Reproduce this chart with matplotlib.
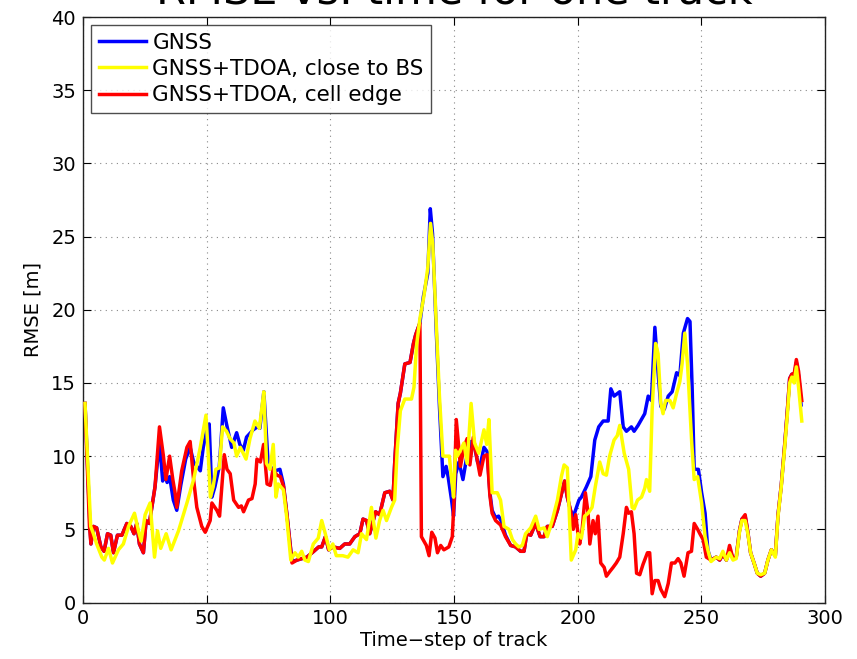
import matplotlib
matplotlib.use("Agg")
import matplotlib.pyplot as plt

plt.rcParams["font.family"] = ["DejaVu Sans"]

# GNSS only
t_gnss = [0.8, 2.8, 3.2, 4.2, 5.5, 7.2, 8.5, 9.9, 11.2, 12.3, 13.9, 15.7, 17.7, 19.3, 20.6,
          21.7, 22.8, 24.4, 25.5, 26.8, 27.8, 29.1, 30.9, 32.2, 33.0, 34.0, 35.0, 36.5, 37.9,
          39.5, 41.5, 43.3, 44.7, 46.5, 47.4, 48.6, 50.0, 51.0, 52.1, 53.3, 55.1, 56.7, 58.0,
          60.1, 62.1, 63.4, 64.8, 66.1, 68.8, 70.5, 71.5, 73.1, 74.9, 76.3, 77.7, 79.6, 81.0,
          82.5, 84.5, 86.5, 88.5, 90.5, 93.3, 95.3, 96.5, 98.0, 99.3, 101.0, 103.8, 105.8,
          107.8, 109.9, 111.9, 113.2, 114.6, 115.9, 118.3, 119.9, 122.0, 124.0, 125.3, 126.0,
          127.4, 128.3, 130.1, 132.2, 133.6, 134.5, 136.2, 137.6, 139.4, 140.4, 141.3, 142.8,
          144.1, 145.5, 146.8, 147.6, 149.0, 149.8, 150.7, 152.0, 153.6, 155.0, 156.8, 158.0,
          159.5, 160.5, 162.1, 163.4, 164.5, 165.4, 166.8, 168.0, 169.0, 170.8, 172.9, 174.9,
          176.9, 178.3, 179.4, 181.0, 183.0, 184.8, 186.4, 187.7, 189.7, 191.8, 193.1, 194.7,
          195.8, 197.1, 198.3, 200.5, 201.5, 203.5, 205.3, 206.9, 208.5, 210.3, 212.3, 213.4,
          214.7, 217.0, 218.4, 219.7, 221.7, 222.8, 224.4, 227.1, 228.5, 229.8, 231.2, 232.5,
          233.6, 235.0, 236.6, 238.2, 240.0, 241.3, 242.7, 244.4, 245.4, 246.3, 247.1, 248.8,
          250.1, 251.5, 252.6, 253.9, 256.0, 257.4, 258.7, 260.1, 261.4, 262.8, 264.1, 265.4,
          266.4, 267.7, 268.8, 269.9, 271.3, 272.6, 274.0, 275.6, 276.9, 278.3, 279.9, 281.0,
          282.3, 283.7, 284.8, 285.7, 286.6, 287.5, 288.4, 289.3, 290.3]
rmse_gnss = [13.6, 5.2, 4.0, 5.2, 5.1, 3.8, 3.5, 4.7, 4.6, 3.4, 4.6, 4.6, 5.4, 5.2, 4.7,
             5.4, 4.0, 3.4, 5.6, 5.4, 6.5, 7.9, 11.0, 8.3, 8.8, 8.2, 8.6, 7.0, 6.3,
             8.0, 9.8, 10.6, 9.6, 9.2, 9.0, 10.6, 11.8, 12.2, 7.2, 7.9, 9.3, 13.3, 12.2,
             10.6, 11.6, 10.8, 10.4, 11.3, 11.8, 12.0, 11.9, 14.4, 9.3, 9.2, 9.0, 9.1, 8.1,
             5.9, 2.8, 2.9, 3.0, 3.1, 3.5, 3.8, 3.8, 4.5, 3.6, 3.8, 3.7, 4.0,
             4.0, 4.5, 4.7, 5.7, 5.6, 4.7, 6.2, 6.0, 7.5, 7.6, 7.0, 9.5,
             13.6, 14.3, 16.3, 16.4, 17.7, 18.3, 19.1, 20.9, 22.5, 26.9, 25.2, 18.6,
             13.4, 8.6, 9.3, 8.6, 7.0, 5.9, 8.8, 9.6, 8.4, 9.8, 11.0, 10.9,
             9.6, 9.3, 10.6, 10.3, 7.5, 6.3, 5.8, 5.9, 5.6, 4.6, 3.9, 3.8,
             3.5, 3.5, 4.7, 4.6, 5.4, 4.5, 4.5, 5.2, 5.2, 6.3, 7.2, 8.3,
             7.2, 6.3, 5.9, 7.0, 7.2, 7.9, 8.6, 11.1, 12.0, 12.4, 12.4, 14.6,
             14.1, 14.4, 12.0, 11.7, 12.0, 11.7, 12.1, 12.9, 14.1, 13.8, 18.8, 15.7,
             13.4, 13.2, 14.1, 14.4, 15.7, 15.5, 18.4, 19.4, 19.2, 14.5, 9.1, 9.1,
             7.5, 6.1, 3.6, 2.9, 3.1, 2.9, 3.3, 2.9, 3.6, 3.0, 3.1, 4.9,
             5.7, 5.9, 4.8, 3.4, 2.7, 2.0, 1.8, 2.0, 2.9, 3.6, 3.2, 6.0,
             8.0, 10.8, 13.2, 15.3, 15.6, 15.4, 16.4, 15.5, 13.5]

# GNSS+TDOA, close to BS
t_close = [0.8, 3.1, 4.2, 5.5, 7.6, 8.6, 10.3, 11.9, 14.3, 16.3, 18.4, 20.8, 22.4, 23.5,
           25.1, 27.1, 28.9, 30.1, 31.4, 33.6, 35.6, 38.6, 42.0, 44.7, 47.4, 49.7, 50.6,
           51.5, 52.6, 53.7, 55.1, 56.4, 58.0, 59.4, 61.0, 62.1, 63.6, 65.9, 67.5, 69.5,
           71.3, 72.2, 73.1, 74.2, 75.6, 76.9, 78.0, 78.9, 81.0, 82.3, 84.0, 85.7, 87.0,
           88.4, 89.7, 91.1, 93.1, 95.1, 96.5, 97.8, 99.6, 101.0, 102.4, 105.0, 107.1,
           109.2, 111.2, 112.6, 114.6, 116.6, 118.4, 119.9, 121.3, 122.7, 124.7, 126.0,
           127.0, 128.3, 130.1, 132.8, 133.8, 134.8, 136.2, 137.8, 139.4, 140.5, 141.4,
           142.8, 144.1, 145.5, 148.1, 149.0, 149.8, 150.6, 151.3, 152.6, 154.0, 155.3,
           156.9, 158.3, 160.0, 162.1, 163.2, 164.1, 165.4, 167.5, 168.8, 170.2, 172.2,
           173.6, 174.9, 176.2, 177.6, 178.9, 181.0, 183.0, 184.4, 186.4, 187.7, 189.7,
           191.8, 193.4, 194.5, 195.8, 196.5, 197.4, 199.2, 200.1, 201.5, 202.8, 204.2,
           205.8, 207.1, 208.9, 210.3, 211.6, 212.9, 214.7, 216.0, 217.0, 218.8, 220.6,
           222.0, 222.8, 224.2, 225.8, 227.1, 227.8, 229.1, 230.1, 231.5, 232.5, 233.6,
           234.5, 235.5, 237.3, 238.6, 240.0, 241.3, 242.2, 243.3, 244.4, 246.1, 247.1,
           248.5, 250.1, 251.5, 252.6, 253.9, 256.0, 257.4, 258.7, 260.1, 261.4, 262.8,
           264.1, 265.4, 266.4, 267.7, 268.8, 269.9, 271.3, 272.6, 274.0, 275.6, 276.9,
           278.3, 279.9, 281.0, 282.3, 283.7, 284.8, 285.7, 286.6, 287.5, 288.4, 289.3,
           290.6]
rmse_close = [13.6, 5.2, 4.7, 4.0, 3.1, 2.9, 3.7, 2.7, 3.6, 4.0, 5.2, 6.1, 4.9, 4.2,
              6.0, 6.8, 3.1, 4.9, 3.7, 4.7, 3.6, 4.9, 6.8, 8.4, 10.6, 12.8, 10.2,
              7.2, 7.9, 9.1, 9.2, 12.0, 11.7, 11.2, 10.9, 10.0, 10.6, 9.8, 11.2, 12.4,
              11.9, 13.2, 14.4, 9.5, 9.1, 10.8, 7.2, 8.1, 7.7, 5.9, 2.9, 3.4, 3.1,
              3.5, 2.9, 2.8, 4.0, 4.4, 5.6, 4.8, 3.6, 4.0, 3.2, 3.2, 3.1,
              3.6, 3.4, 4.7, 4.3, 6.5, 4.4, 5.6, 6.3, 5.6, 6.5, 7.0,
              10.4, 13.1, 13.9, 13.9, 14.7, 17.5, 19.4, 20.9, 22.9, 25.9, 24.5,
              19.1, 14.1, 10.0, 10.0, 8.4, 7.2, 10.4, 10.0, 10.4, 10.9, 9.5,
              13.6, 10.9, 10.2, 11.8, 10.8, 12.5, 7.5, 7.5, 7.0, 5.2, 5.0,
              4.3, 4.0, 3.8, 3.9, 4.7, 5.1, 5.9, 5.0, 5.1, 4.5, 5.6,
              7.0, 8.6, 9.4, 9.2, 6.5, 2.9, 3.6, 4.7, 4.4, 5.9, 6.1,
              6.5, 7.9, 9.6, 8.8, 8.7, 10.0, 11.1, 11.4, 12.1, 10.2, 9.1,
              6.5, 6.4, 7.0, 7.2, 7.8, 8.4, 7.6, 13.2, 17.7, 17.0, 13.6,
              12.9, 13.8, 13.8, 13.3, 14.3, 15.1, 16.3, 18.4, 16.3, 10.9, 8.4,
              8.6, 6.8, 4.5, 3.6, 2.8, 3.1, 3.0, 3.5, 2.9, 3.4, 2.9,
              3.0, 4.8, 5.6, 5.6, 4.7, 3.4, 2.7, 2.0, 1.9, 2.0, 2.9,
              3.6, 3.1, 5.9, 7.9, 10.6, 12.9, 15.0, 15.4, 15.0, 16.1, 14.7,
              12.4]

# GNSS+TDOA, cell edge
t_edge = [0.8, 2.6, 3.2, 4.2, 5.5, 7.2, 8.5, 9.9, 11.2, 12.3, 13.9, 15.7, 17.7, 19.3, 20.6,
          21.7, 22.8, 24.4, 25.5, 26.8, 27.8, 29.1, 30.9, 32.5, 33.5, 35.0, 36.3, 37.2, 37.9,
          39.9, 42.0, 43.3, 44.7, 46.0, 48.0, 49.4, 51.4, 52.1, 54.1, 55.2, 56.1, 57.1, 58.2,
          59.5, 60.9, 62.9, 64.0, 64.9, 66.9, 68.3, 69.6, 70.3, 71.7, 73.0, 74.4, 75.7, 76.8,
          78.4, 79.8, 81.1, 82.5, 84.5, 86.5, 88.5, 90.5, 93.3, 95.3, 96.5, 98.0, 99.3, 101.0,
          103.8, 105.8, 107.8, 109.9, 111.9, 113.2, 114.6, 115.9, 118.3, 119.9, 122.0, 124.0,
          125.3, 126.0, 127.4, 128.3, 130.1, 132.2, 133.6, 134.5, 136.2, 136.8, 138.8, 139.9,
          141.0, 142.3, 143.3, 144.6, 145.9, 147.9, 149.3, 150.0, 150.9, 152.6, 154.0, 155.3,
          156.4, 157.8, 159.1, 160.5, 162.1, 163.4, 164.5, 165.4, 166.8, 168.8, 170.8, 172.9,
          174.9, 176.9, 178.3, 179.4, 181.0, 183.0, 184.8, 186.4, 187.7, 189.7, 191.8, 193.1,
          194.7, 195.8, 197.1, 198.2, 199.2, 200.1, 200.8, 201.8, 203.1, 204.2, 204.9, 206.2,
          207.1, 208.2, 209.3, 210.7, 211.6, 212.9, 214.3, 215.6, 217.0, 218.4, 219.7, 220.6,
          221.7, 222.8, 223.8, 225.1, 226.4, 228.2, 229.1, 230.1, 231.2, 232.5, 233.6, 235.2,
          236.6, 237.9, 239.3, 240.6, 241.7, 243.0, 244.6, 246.0, 247.1, 248.5, 249.4, 250.7,
          252.0, 253.9, 256.0, 257.4, 258.7, 260.1, 261.4, 262.8, 264.1, 265.4, 266.4, 267.7,
          268.8, 269.9, 271.3, 272.6, 274.0, 275.6, 276.9, 278.3, 279.9, 281.0, 282.3, 283.7,
          284.8, 285.7, 286.6, 287.5, 288.4, 289.3, 290.6]
rmse_edge = [13.6, 5.2, 4.0, 5.2, 5.1, 3.8, 3.5, 4.7, 4.6, 3.4, 4.6, 4.6, 5.4, 5.2, 4.7,
             5.4, 4.0, 3.4, 5.6, 5.4, 6.5, 7.9, 12.0, 10.0, 8.4, 10.0, 8.4, 7.5, 6.5,
             9.0, 10.6, 11.0, 8.4, 6.5, 5.2, 4.8, 5.6, 6.8, 6.3, 5.9, 7.9, 10.1, 9.1,
             8.8, 7.0, 6.5, 6.6, 6.2, 7.0, 7.1, 8.1, 9.8, 9.6, 10.8, 8.1, 8.0, 9.1,
             8.7, 8.6, 7.9, 5.9, 2.7, 2.9, 3.0, 3.1, 3.5, 3.8, 3.8, 4.5, 3.6, 3.8,
             3.7, 4.0, 4.0, 4.5, 4.7, 5.7, 5.6, 4.7, 6.2, 6.0, 7.5, 7.6,
             7.0, 9.5, 13.6, 14.3, 16.3, 16.4, 17.7, 18.3, 19.1, 4.5, 3.9, 3.2,
             4.8, 4.4, 3.4, 3.9, 3.6, 3.8, 4.5, 7.0, 12.5, 9.3, 10.6, 11.2,
             9.4, 11.3, 10.0, 8.7, 10.0, 10.1, 7.3, 6.1, 5.6, 5.3, 4.5, 3.9,
             3.8, 3.5, 3.5, 4.7, 4.6, 5.4, 4.5, 4.5, 5.2, 5.2, 6.3, 7.2,
             8.3, 7.2, 6.3, 5.0, 6.0, 4.7, 4.0, 5.0, 7.5, 6.1, 4.0, 5.6,
             4.7, 5.9, 2.7, 2.4, 1.8, 2.1, 2.4, 2.7, 3.1, 4.7, 6.5, 6.1,
             6.2, 4.7, 2.0, 1.9, 2.6, 3.4, 3.4, 0.6, 1.5, 1.5, 0.9, 0.4,
             1.3, 2.7, 2.7, 3.0, 2.7, 1.8, 3.4, 3.5, 5.4, 5.0, 4.7, 4.3,
             3.1, 2.9, 3.1, 2.9, 3.3, 2.9, 3.9, 3.0, 3.1, 4.9, 5.7, 6.0,
             4.8, 3.4, 2.7, 2.0, 1.8, 2.0, 2.9, 3.6, 3.2, 6.0, 8.0, 10.8,
             13.2, 15.3, 15.6, 15.6, 16.6, 15.8, 13.8]

x_ticks = [0, 50, 100, 150, 200, 250, 300]
y_ticks = [0, 5, 10, 15, 20, 25, 30, 35, 40]

fig = plt.figure(figsize=(8.57, 6.59), dpi=100)
ax = fig.add_axes([0.0969, 0.0857, 0.8658, 0.8885])

lw = 2.5
ax.plot(t_gnss, rmse_gnss, color="#0000ff", lw=lw, label="GNSS", zorder=3)
ax.plot(t_edge, rmse_edge, color="#ff0000", lw=lw, label="GNSS+TDOA, cell edge", zorder=4)
ax.plot(t_close, rmse_close, color="#ffff00", lw=lw, label="GNSS+TDOA, close to BS", zorder=5)

ax.set_xlim(0, 300)
ax.set_ylim(0, 40)
ax.set_xticks(x_ticks)
ax.set_yticks(y_ticks)
ax.tick_params(direction="in", top=True, right=True, length=6, width=0.8,
               labelsize=14, pad=5)
ax.grid(True, linestyle=(0, (1, 4)), color="#888888", linewidth=0.8)
for s in ax.spines.values():
    s.set_linewidth(1.0)
    s.set_color("#222222")

ax.set_xlabel("Time\u2212step of track", fontsize=14, labelpad=2)
ax.set_ylabel("RMSE [m]", fontsize=14, labelpad=6)

handles, labels = ax.get_legend_handles_labels()
order = [0, 2, 1]
leg = ax.legend([handles[i] for i in order], [labels[i] for i in order],
                loc="upper left", bbox_to_anchor=(0.0108, 0.9863), borderaxespad=0,
                fontsize=15.5, frameon=True, fancybox=False, edgecolor="#222222",
                handlelength=2.2, handletextpad=0.3, labelspacing=0.3,
                borderpad=0.35)
leg.get_frame().set_linewidth(1.0)
leg.set_zorder(10)

fig.text(454 / 857, 1 - 3 / 659, "RMSE vs. time for one track", ha="center",
         va="baseline", fontsize=31)

fig.savefig("out.png", dpi=100)
